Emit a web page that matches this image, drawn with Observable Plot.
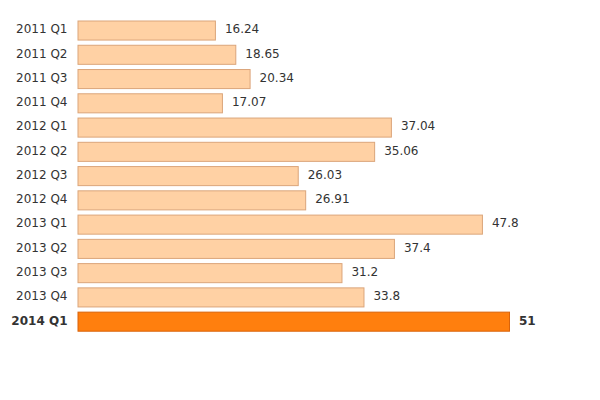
<!DOCTYPE html>
<html>
<head>
<meta charset="utf-8">
<script src="https://cdn.jsdelivr.net/npm/d3@7"></script>
<script src="https://cdn.jsdelivr.net/npm/@observablehq/plot@0.6"></script>
<style>
  html, body { margin: 0; padding: 0; background: #fff; }
  svg { display: block; }
</style>
</head>
<body>
<div id="chart"></div>
<script>
const quarters = ["2011 Q1","2011 Q2","2011 Q3","2011 Q4","2012 Q1","2012 Q2","2012 Q3","2012 Q4","2013 Q1","2013 Q2","2013 Q3","2013 Q4","2014 Q1"];
const values = [16.24, 18.65, 20.34, 17.07, 37.04, 35.06, 26.03, 26.91, 47.8, 37.4, 31.2, 33.8, 51];
const highlight = "2014 Q1";

const data = quarters.map((q, i) => ({quarter: q, value: values[i], hl: q === highlight}));
const normal = data.filter(d => !d.hl);
const hl = data.filter(d => d.hl);

const labelOpts = (bold) => ({
  y: "quarter", x: 0, text: "quarter",
  textAnchor: "end", dx: -11, dy: -1.5, fill: "#333",
  fontWeight: bold ? "bold" : "normal"
});
const valueOpts = (bold) => ({
  y: "quarter", x: "value", text: d => String(d.value),
  textAnchor: "start", dx: 9, dy: -1.5, fill: "#333",
  fontWeight: bold ? "bold" : "normal"
});

const chart = Plot.plot({
  width: 600,
  height: 400,
  marginLeft: 78,
  marginRight: 90.5,
  marginTop: 18.4,
  marginBottom: 66.2,
  style: {fontFamily: "DejaVu Sans", fontSize: "12px", color: "#333", background: "#fff"},
  x: {domain: [0, 51], axis: null},
  y: {domain: quarters, padding: 0, round: false, axis: null},
  marks: [
    Plot.barX(normal, {
      y: "quarter", x: "value",
      insetTop: 2.6, insetBottom: 2.6,
      fill: "#ffd1a4", stroke: "#dba57a", strokeWidth: 1
    }),
    Plot.barX(hl, {
      y: "quarter", x: "value",
      insetTop: 2.6, insetBottom: 2.6,
      fill: "#ff7f0e", stroke: "#d9630a", strokeWidth: 1
    }),
    Plot.text(normal, labelOpts(false)),
    Plot.text(hl, labelOpts(true)),
    Plot.text(normal, valueOpts(false)),
    Plot.text(hl, valueOpts(true))
  ]
});
document.getElementById("chart").appendChild(chart);
</script>
</body>
</html>
